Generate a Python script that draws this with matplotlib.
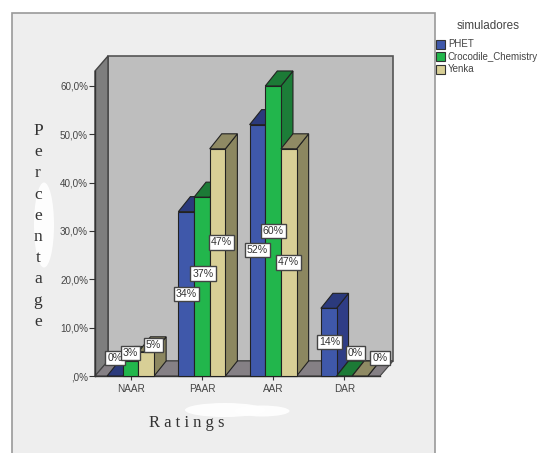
import matplotlib
matplotlib.use("Agg")
import matplotlib.pyplot as plt
from matplotlib.patches import Polygon, Rectangle, Ellipse

W, H = 538, 453

categories = ["NAAR", "PAAR", "AAR", "DAR"]
series_names = ["PHET", "Crocodile_Chemistry", "Yenka"]
phet = [0, 34, 52, 14]
crocodile = [3, 37, 60, 0]
yenka = [5, 47, 47, 0]
series = [phet, crocodile, yenka]
y_ticks = [0, 10, 20, 30, 40, 50, 60]
y_tick_labels = [",0%", "10,0%", "20,0%", "30,0%", "40,0%", "50,0%", "60,0%"]

# front, top, side shades for each series
front_cols = ["#3f58aa", "#22b64c", "#d8cf96"]
top_cols = ["#2b3a7c", "#1c7a36", "#8f8a64"]
side_cols = ["#2f3d86", "#1c7d38", "#8c8760"]

# label offsets from the middle of each bar front, in pixels (right, up)
label_dx = [[0, 0, 7], [0, 1, 4], [0, 0, 0], [1, 11, 20]]
label_dy = [[18, 16, 19], [0, 13, 20], [0, 0, 0], [0, 23, 18]]

plt.rcParams["font.family"] = ["Liberation Sans", "DejaVu Sans"]
fig = plt.figure(figsize=(W / 100, H / 100), dpi=100, facecolor="white")


def fx(x):
    return x / W


def fy(y):
    return 1 - y / H


# grey panel behind the chart
fig.add_artist(Rectangle((fx(12), fy(460)), fx(423), 447 / H, transform=fig.transFigure,
                         fc="#eeeeee", ec="#999999", lw=1.2, zorder=-2))
# pale smudges around the axis titles
for cx, cy, ew, eh in [(44, 225, 20, 85), (225, 410, 80, 14), (262, 411, 55, 11)]:
    fig.add_artist(Ellipse((fx(cx), fy(cy)), ew / W, eh / H, transform=fig.transFigure,
                           fc="white", ec="none", alpha=0.9, zorder=-1))

ax = fig.add_axes([fx(95), fy(376), 285 / W, 305 / H])
ax.set_xlim(-0.5, 3.5)
ax.set_ylim(0, 63.1)
ax.patch.set_visible(False)
for s in ["top", "right"]:
    ax.spines[s].set_visible(False)
for s in ["left", "bottom"]:
    ax.spines[s].set_color("#333333")
    ax.spines[s].set_linewidth(1.0)

# depth of the 3D box in data units
depth_x = 13 / 71.25
depth_y = 15 / 4.83
x0, x1 = ax.get_xlim()
y1 = ax.get_ylim()[1]


def face(pts, fc, ec="#222222", lw=0.8, z=2):
    ax.add_patch(Polygon(pts, closed=True, fc=fc, ec=ec, lw=lw, zorder=z, clip_on=False))


# back wall, side wall and floor
face([(x0 + depth_x, depth_y), (x1 + depth_x, depth_y), (x1 + depth_x, y1 + depth_y),
      (x0 + depth_x, y1 + depth_y)], "#bebebe", ec="#555555", lw=1.2, z=1)
face([(x0, 0), (x0 + depth_x, depth_y), (x0 + depth_x, y1 + depth_y), (x0, y1)],
     "#7e7e7e", ec="#444444", lw=1.0, z=1)
face([(x0, 0), (x1, 0), (x1 + depth_x, depth_y), (x0 + depth_x, depth_y)],
     "#858085", ec="#444444", lw=0.8, z=1)

bar_w = 0.22
bar_depth_x = 12 / 71.25
for c in range(len(categories)):
    for s, vals in enumerate(series):
        v = vals[c]
        left = c + (s - 1.5) * bar_w
        right = left + bar_w
        face([(right, 0), (right + bar_depth_x, depth_y), (right + bar_depth_x, v + depth_y), (right, v)],
             side_cols[s], z=3)
        face([(left, v), (right, v), (right + bar_depth_x, v + depth_y), (left + bar_depth_x, v + depth_y)],
             top_cols[s], z=3)
        if v > 0:
            face([(left, 0), (right, 0), (right, v), (left, v)], front_cols[s], z=3)

# value labels sit on top of all the bars
for c in range(len(categories)):
    for s, vals in enumerate(series):
        v = vals[c]
        xc = c + (s - 1) * bar_w
        ax.annotate(f"{v}%", (xc, v / 2), xytext=(label_dx[c][s] * 0.72, label_dy[c][s] * 0.72),
                    textcoords="offset points", ha="center", va="center", fontsize=7.6,
                    color="#333333", zorder=6, annotation_clip=False,
                    bbox=dict(boxstyle="square,pad=0.2", fc="white", ec="#444444", lw=1.0))

ax.set_xticks(range(len(categories)))
ax.set_xticklabels(categories, fontsize=7.2, color="#444444")
ax.set_yticks(y_ticks)
ax.set_yticklabels(y_tick_labels, fontsize=7.1, color="#444444")
ax.tick_params(axis="x", length=3, width=0.8, color="#333333", pad=3)
ax.tick_params(axis="y", length=4, width=0.8, color="#333333", pad=1)

# axis titles in a spaced serif
for i, ch in enumerate("Percentage"):
    fig.text(fx(38), fy(131 + i * 21.2), ch, family="Liberation Serif", fontsize=12.5,
             color="#333333", ha="center", va="center")
fig.text(fx(187), fy(423), "R a t i n g s", family="Liberation Serif", fontsize=12,
         color="#333333", ha="center", va="center")

# legend to the right of the panel
fig.text(fx(488), fy(26), "simuladores", fontsize=8.4, color="#444444", ha="center", va="center")
for i, name in enumerate(series_names):
    ty = 44 + i * 12.7
    fig.add_artist(Rectangle((fx(436), fy(ty + 4.5)), 9 / W, 9 / H, transform=fig.transFigure,
                             fc=front_cols[i], ec="#333333", lw=0.8))
    fig.text(fx(448), fy(ty), name, fontsize=7.0, color="#444444", ha="left", va="center")

fig.savefig("out.png", dpi=100)
